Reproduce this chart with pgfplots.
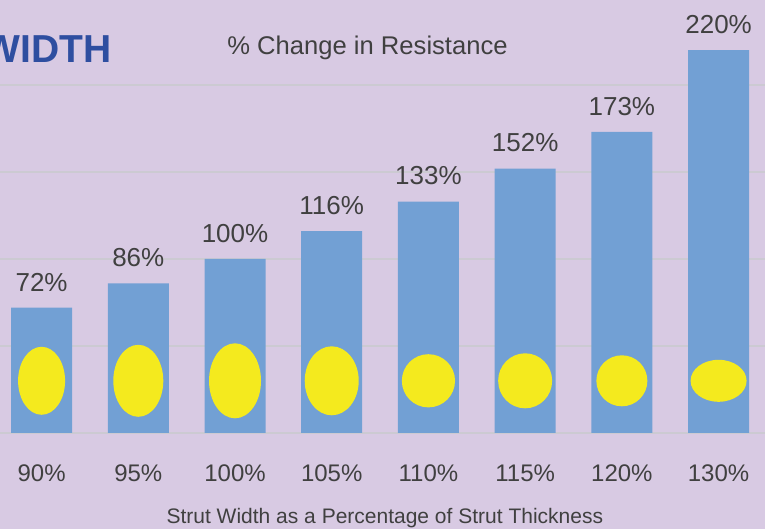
\documentclass[border=0pt]{standalone}
\usepackage{pgfplots}
\pgfplotsset{compat=1.18}
\usepackage{fontspec}
\setmainfont{Liberation Sans}
\definecolor{bgc}{RGB}{216,202,227}
\definecolor{barc}{RGB}{114,160,212}
\definecolor{ellc}{RGB}{244,234,30}
\definecolor{gridc}{RGB}{204,202,210}
\definecolor{txtc}{RGB}{64,64,64}
\definecolor{widthc}{RGB}{46,78,160}
\pgfdeclareplotmark{ell}{%
  \pgfpathellipse{\pgfpointorigin}{\pgfqpoint{\rx pt}{0pt}}{\pgfqpoint{0pt}{\ry pt}}%
  \pgfusepathqfill}
\begin{document}
\begin{tikzpicture}
\useasboundingbox (0,-48pt) rectangle (382.5pt,216.5pt);
\fill[bgc] (0,-48pt) rectangle (382.5pt,216.5pt);
\begin{axis}[
  scale only axis,
  width=382.5pt, height=216.5pt,
  xmin=-0.43, xmax=7.48,
  ymin=0, ymax=248.85,
  /pgf/number format/assume math mode=true,
  axis line style={draw=none},
  major tick length=0pt,
  xtick={0,...,7},
  xticklabels={90\%,95\%,100\%,105\%,110\%,115\%,120\%,130\%},
  xticklabel style={anchor=base, inner sep=0pt, yshift=-24.5pt, font=\fontsize{12}{14}\selectfont, text=txtc},
  ytick={0,50,100,150,200},
  yticklabels={},
  ymajorgrids,
  grid style={gridc, line width=0.8pt},
  xlabel={Strut Width as a Percentage of Strut Thickness},
  xlabel style={at={(axis description cs:0.503,0)}, anchor=base, inner sep=0pt, yshift=-45.3pt, font=\fontsize{10.5}{12}\selectfont, text=txtc},
  clip=false,
]
\addplot[ybar, bar width=30.5pt, bar shift=0pt, fill=barc, draw=none,
  point meta=y,
  nodes near coords={\pgfmathprintnumber[assume math mode=true]{\pgfplotspointmeta}\%},
  every node near coord/.append style={anchor=base, inner sep=0pt, yshift=8.3pt, font=\fontsize{13}{15}\selectfont, text=txtc},
] coordinates {(0,72) (1,86) (2,100) (3,116) (4,133) (5,152) (6,173) (7,220)};
\addplot[scatter, only marks, mark=ell, color=ellc,
  visualization depends on={value \thisrow{rx} \as \rx},
  visualization depends on={value \thisrow{ry} \as \ry},
  scatter/@pre marker code/.code={},
  scatter/@post marker code/.code={},
] table {
x y rx ry
0 30 11.75 17
1 30 12.5 18
2 30 13 18.75
3 30 13.5 17.25
4 30 13.3 13.3
5 30 13.5 13.75
6 30 12.75 12.75
7 30 14 10.5
};
\end{axis}
\node[anchor=base, inner sep=0pt, text=txtc, font=\fontsize{12.8}{15}\selectfont] at (183.75pt,189pt) {\% Change in Resistance};
\node[anchor=base east, inner sep=0pt, text=widthc, font=\fontsize{19.5}{22}\selectfont\bfseries] at (56pt,185pt) {WIDTH};
\end{tikzpicture}
\end{document}
